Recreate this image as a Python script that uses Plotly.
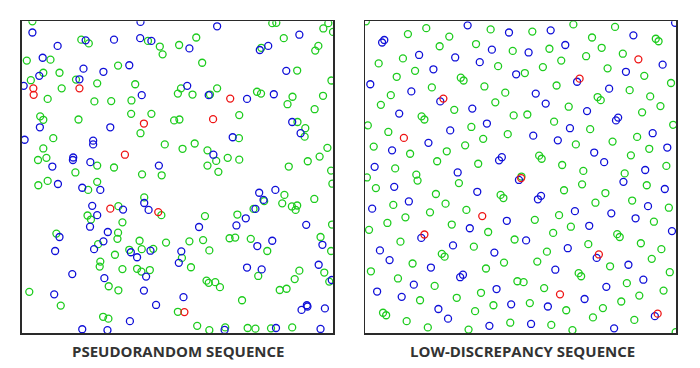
import plotly.graph_objects as go

# ---------------- data (unit square samples) ----------------
panel_titles = ["PSEUDORANDOM SEQUENCE", "LOW-DISCREPANCY SEQUENCE"]

pseudo_blue = [(0.035,0.964),(0.382,0.998),(0.206,0.939),(0.297,0.941),(0.381,0.946),(0.417,0.937),(0.116,0.921),(0.068,0.883),(0.199,0.848),(0.263,0.838),(0.346,0.859),(0.057,0.825),(0.007,0.793),(0.186,0.814),(0.386,0.763),
 (0.628,0.984),(0.539,0.913),(0.765,0.908),(0.792,0.921),(0.892,0.957),(0.850,0.841),(0.532,0.793),(0.601,0.763),(0.724,0.751),(0.810,0.766),(0.869,0.677),
 (0.059,0.660),(0.285,0.660),(0.010,0.620),(0.230,0.617),(0.230,0.605),(0.166,0.563),(0.165,0.555),(0.099,0.534),(0.221,0.548),(0.441,0.537),(0.117,0.478),(0.195,0.466),(0.253,0.459),(0.394,0.417),(0.227,0.408),(0.326,0.396),(0.408,0.395),(0.243,0.378),(0.220,0.341),
 (0.896,0.641),(0.678,0.628),(0.616,0.572),(0.815,0.459),(0.763,0.450),(0.777,0.427),(0.751,0.398),(0.720,0.368),(0.690,0.345),(0.570,0.340),(0.914,0.347),
 (0.122,0.308),(0.277,0.324),(0.263,0.294),(0.233,0.269),(0.108,0.263),(0.351,0.259),(0.414,0.264),(0.371,0.243),(0.513,0.262),(0.505,0.225),(0.400,0.181),(0.163,0.189),(0.266,0.176),(0.393,0.136),(0.105,0.124),(0.432,0.090),(0.348,0.038),(0.195,0.012),(0.276,0.009),
 (0.757,0.279),(0.805,0.296),(0.966,0.283),(0.724,0.210),(0.771,0.204),(0.954,0.219),(0.996,0.170),(0.520,0.115),(0.916,0.089),(0.918,0.085),(0.899,0.074),(0.974,0.079),(0.652,0.010),(0.817,0.016),(0.960,0.013)]

pseudo_red = [(0.038,0.785),(0.039,0.764),(0.186,0.785),(0.393,0.672),(0.670,0.752),(0.615,0.686),(0.332,0.572),(0.285,0.399),(0.439,0.388),(0.523,0.067)]

pseudo_green = [(0.035,1.000),(0.192,0.941),(0.216,0.929),(0.406,0.937),(0.444,0.919),(0.453,0.894),(0.506,0.924),(0.093,0.877),(0.017,0.874),(0.310,0.858),(0.070,0.835),(0.122,0.835),(0.030,0.811),(0.175,0.813),(0.129,0.785),(0.243,0.801),(0.365,0.798),(0.502,0.768),(0.084,0.751),(0.234,0.743),(0.288,0.744),(0.353,0.746),(0.352,0.703),(0.417,0.703),(0.060,0.695),(0.070,0.684),(0.183,0.685),(0.490,0.682),(0.507,0.685),
 (0.805,0.994),(0.818,0.995),(0.985,0.994),(0.969,0.977),(1.000,0.966),(0.561,0.948),(0.580,0.867),(0.770,0.915),(0.842,0.946),(0.943,0.906),(0.953,0.921),(0.885,0.842),(0.995,0.810),(0.512,0.785),(0.549,0.765),(0.605,0.765),(0.628,0.785),(0.756,0.774),(0.769,0.768),(0.870,0.758),(0.854,0.734),(0.968,0.761),(0.941,0.718),(0.699,0.699),(0.886,0.677),
 (0.102,0.625),(0.382,0.641),(0.070,0.592),(0.460,0.605),(0.053,0.555),(0.080,0.562),(0.243,0.537),(0.297,0.531),(0.173,0.515),(0.387,0.509),(0.450,0.506),(0.084,0.488),(0.054,0.474),(0.243,0.485),(0.214,0.459),(0.394,0.435),(0.311,0.407),(0.449,0.378),(0.212,0.377),(0.223,0.364),(0.324,0.355),
 (0.911,0.657),(0.909,0.630),(0.698,0.625),(0.556,0.608),(0.517,0.591),(0.597,0.586),(0.625,0.552),(0.662,0.562),(0.699,0.556),(0.597,0.537),(0.632,0.517),(0.982,0.594),(0.957,0.566),(0.919,0.551),(0.858,0.534),(0.994,0.521),(0.998,0.479),(0.844,0.443),(0.779,0.423),(0.837,0.416),(0.940,0.430),(0.868,0.406),(0.885,0.409),(0.880,0.395),(0.745,0.398),(0.589,0.375),(0.693,0.380),(0.997,0.348),
 (0.112,0.319),(0.310,0.322),(0.308,0.302),(0.246,0.285),(0.379,0.296),(0.464,0.290),(0.346,0.267),(0.386,0.269),(0.423,0.270),(0.300,0.251),(0.253,0.229),(0.251,0.213),(0.324,0.205),(0.371,0.206),(0.385,0.197),(0.412,0.202),(0.280,0.150),(0.311,0.137),(0.025,0.132),(0.126,0.088),(0.502,0.068),(0.262,0.052),(0.279,0.046),
 (0.539,0.294),(0.583,0.298),(0.668,0.304),(0.686,0.306),(0.736,0.302),(0.789,0.263),(0.960,0.308),(0.994,0.263),(0.515,0.241),(0.603,0.265),(0.544,0.211),(0.760,0.183),(0.892,0.200),(0.877,0.173),(0.972,0.194),(0.988,0.165),(0.594,0.168),(0.601,0.161),(0.622,0.163),(0.637,0.147),(0.829,0.138),(0.851,0.142),(0.708,0.105),(0.564,0.023),(0.603,0.009),(0.654,0.018),(0.726,0.016),(0.751,0.014),(0.801,0.015),(0.869,0.018)]

lowdisc_blue = [(0.330,0.987),(0.463,0.964),(0.062,0.940),(0.055,0.932),(0.408,0.909),(0.174,0.892),(0.290,0.884),(0.369,0.869),(0.220,0.846),(0.486,0.830),(0.017,0.798),(0.149,0.775),(0.242,0.743),(0.345,0.720),(0.110,0.704),(0.392,0.672),
 (0.997,0.995),(0.597,0.971),(0.863,0.955),(0.644,0.924),(0.526,0.900),(0.957,0.861),(0.839,0.838),(0.682,0.806),(0.785,0.784),(0.549,0.768),(0.581,0.736),(0.714,0.712),(0.814,0.691),(0.807,0.682),
 (0.274,0.650),(0.204,0.610),(0.087,0.586),(0.440,0.564),(0.431,0.554),(0.031,0.533),(0.298,0.515),(0.495,0.491),(0.094,0.469),(0.361,0.453),(0.141,0.422),(0.023,0.399),(0.456,0.360),(0.337,0.336),
 (0.659,0.657),(0.541,0.633),(0.620,0.618),(0.925,0.641),(0.972,0.595),(0.737,0.579),(0.769,0.548),(0.901,0.523),(0.831,0.485),(0.964,0.462),(0.566,0.440),(0.556,0.429),(0.910,0.407),(0.675,0.391),(0.792,0.384),(0.870,0.368),(0.721,0.344),(0.987,0.327),
 (0.181,0.305),(0.283,0.281),(0.048,0.265),(0.416,0.258),(0.079,0.234),(0.212,0.210),(0.315,0.187),(0.306,0.179),(0.157,0.155),(0.423,0.141),(0.039,0.133),(0.118,0.116),(0.470,0.092),(0.236,0.077),(0.267,0.046),(0.400,0.023),
 (0.518,0.297),(0.652,0.272),(0.745,0.241),(0.847,0.219),(0.612,0.203),(0.895,0.171),(0.776,0.148),(0.706,0.109),(0.588,0.085),(0.932,0.054),(0.534,0.029),(0.801,0.015)]

lowdisc_red = [(0.252,0.752),(0.879,0.878),(0.690,0.816),(0.125,0.626),(0.502,0.497),(0.377,0.375),(0.191,0.316),(0.752,0.252),(0.627,0.124),(0.941,0.062)]

lowdisc_green = [(0.003,1.000),(0.197,0.978),(0.404,0.974),(0.138,0.959),(0.271,0.951),(0.357,0.927),(0.240,0.920),(0.475,0.905),(0.122,0.881),(0.044,0.865),(0.428,0.856),(0.161,0.841),(0.102,0.822),(0.308,0.819),(0.317,0.810),(0.384,0.791),(0.215,0.788),(0.451,0.771),(0.083,0.763),(0.419,0.740),(0.051,0.732),(0.287,0.716),(0.182,0.695),(0.191,0.685),(0.478,0.698),(0.009,0.666),
 (0.670,0.990),(0.804,0.982),(0.538,0.967),(0.730,0.948),(0.935,0.944),(0.944,0.936),(0.593,0.912),(0.761,0.915),(0.829,0.896),(0.711,0.888),(0.631,0.874),(0.572,0.853),(0.780,0.849),(0.514,0.834),(0.898,0.825),(0.984,0.802),(0.616,0.794),(0.851,0.779),(0.748,0.757),(0.758,0.747),(0.917,0.759),(0.655,0.726),(0.950,0.728),(0.891,0.708),(0.522,0.701),(0.608,0.678),(0.991,0.668),
 (0.342,0.661),(0.075,0.645),(0.459,0.638),(0.380,0.623),(0.322,0.602),(0.028,0.598),(0.263,0.583),(0.145,0.575),(0.232,0.551),(0.364,0.543),(0.097,0.528),(0.165,0.508),(0.169,0.489),(0.006,0.499),(0.503,0.502),(0.302,0.481),(0.035,0.465),(0.228,0.446),(0.436,0.443),(0.445,0.433),(0.091,0.411),(0.259,0.415),(0.326,0.395),(0.209,0.387),(0.130,0.371),(0.072,0.353),(0.279,0.348),
 (0.724,0.654),(0.678,0.605),(0.796,0.614),(0.875,0.629),(0.914,0.591),(0.855,0.570),(0.560,0.569),(0.568,0.559),(0.634,0.539),(0.969,0.536),(0.702,0.520),(0.835,0.512),(0.698,0.477),(0.906,0.474),(0.640,0.458),(0.773,0.449),(0.859,0.425),(0.741,0.418),(0.977,0.402),(0.624,0.378),(0.546,0.363),(0.929,0.357),(0.662,0.341),
 (0.013,0.331),(0.396,0.324),(0.481,0.300),(0.114,0.293),(0.350,0.277),(0.247,0.254),(0.256,0.245),(0.153,0.223),(0.447,0.226),(0.389,0.207),(0.019,0.198),(0.106,0.175),(0.490,0.166),(0.510,0.163),(0.224,0.151),(0.373,0.129),(0.295,0.113),(0.177,0.105),(0.413,0.089),(0.354,0.070),(0.058,0.065),(0.068,0.057),(0.134,0.038),(0.467,0.033),(0.202,0.018),(0.333,0.011),
 (0.605,0.321),(0.811,0.317),(0.819,0.308),(0.887,0.288),(0.718,0.285),(0.953,0.269),(0.585,0.261),(0.922,0.238),(0.554,0.229),(0.788,0.214),(0.980,0.195),(0.687,0.192),(0.695,0.182),(0.842,0.160),(0.576,0.144),(0.960,0.136),(0.882,0.120),(0.824,0.101),(0.530,0.096),(0.765,0.080),(0.647,0.073),(0.733,0.050),(0.866,0.042),(0.599,0.026),(0.667,0.009),(0.999,0.003)]

# ---------------- figure ----------------
COLORS = {"green": "#1ecc1e", "blue": "#1010d8", "red": "#ee1414"}

fig = go.Figure()

def add(points, color, axis):
    xs = [p[0] for p in points]
    ys = [p[1] for p in points]
    fig.add_trace(go.Scatter(
        x=xs, y=ys, mode="markers", xaxis="x" + axis, yaxis="y" + axis,
        marker=dict(symbol="circle-open", size=7, color=COLORS[color],
                    line=dict(width=1.3, color=COLORS[color])),
        showlegend=False, hoverinfo="skip", cliponaxis=True))

add(pseudo_green, "green", "")
add(pseudo_blue, "blue", "")
add(pseudo_red, "red", "")
add(lowdisc_green, "green", "2")
add(lowdisc_blue, "blue", "2")
add(lowdisc_red, "red", "2")

ax_common = dict(range=[0, 1], showgrid=False, zeroline=False, showticklabels=False,
                 ticks="", showline=True, mirror=True, linecolor="#2a2a2a", linewidth=1.5,
                 fixedrange=True)

W, H = 700, 368
fig.update_layout(
    width=W, height=H, margin=dict(l=0, r=0, t=0, b=0),
    paper_bgcolor="white", plot_bgcolor="white",
    xaxis=dict(domain=[21.5 / W, 333 / W], anchor="y", **ax_common),
    yaxis=dict(domain=[(H - 333) / H, (H - 21.3) / H], anchor="x", **ax_common),
    xaxis2=dict(domain=[365 / W, 676 / W], anchor="y2", **ax_common),
    yaxis2=dict(domain=[(H - 333) / H, (H - 21.3) / H], anchor="x2", **ax_common),
)

label_font = dict(family="Open Sans, Arial, sans-serif", size=15, color="#333333")
fig.add_annotation(x=177.5 / W, y=(H - 351) / H, xref="paper", yref="paper",
                   text="<b>" + panel_titles[0] + "</b>", showarrow=False,
                   font=label_font, xanchor="center", yanchor="middle")
fig.add_annotation(x=522.5 / W, y=(H - 351) / H, xref="paper", yref="paper",
                   text="<b>" + panel_titles[1] + "</b>", showarrow=False,
                   font=label_font, xanchor="center", yanchor="middle")

fig.write_html("out.html", config={"displayModeBar": False, "staticPlot": True},
               post_script="document.body.style.margin='0';document.body.style.padding='0';")
